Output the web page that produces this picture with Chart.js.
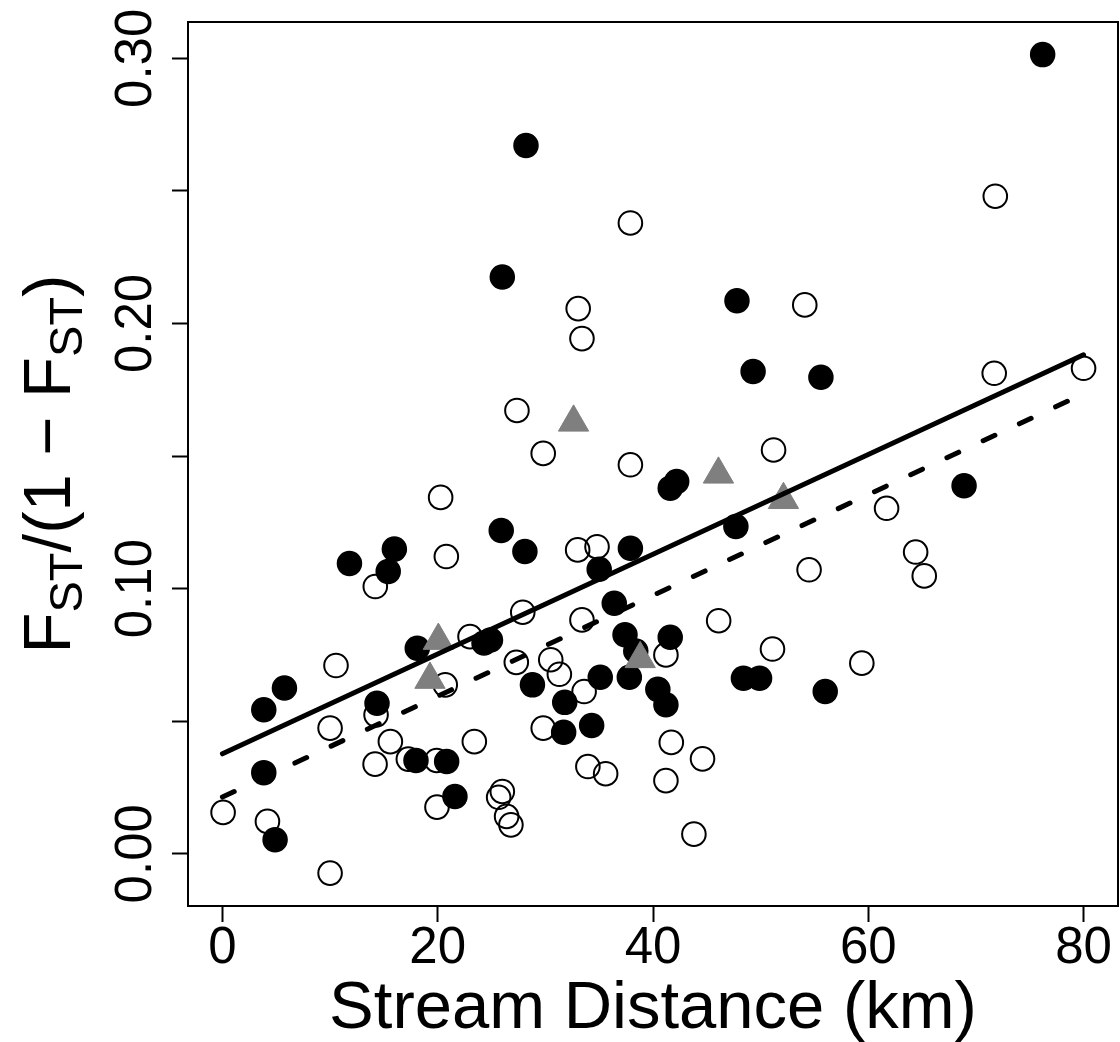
<!DOCTYPE html>
<html>
<head>
<meta charset="utf-8">
<script src="https://cdn.jsdelivr.net/npm/chart.js@4"></script>
<style>
  html, body { margin: 0; padding: 0; background: #fff; }
  canvas { display: block; }
</style>
</head>
<body>
<canvas id="fstChart" width="1120" height="1042"></canvas>
<script>
// tick values / labels
const xTicks = [0, 20, 40, 60, 80];
const xTickLabels = ["0", "20", "40", "60", "80"];
const yTicks = [0, 0.05, 0.10, 0.15, 0.20, 0.25, 0.30];
const yTickLabels = ["0.00", "", "0.10", "", "0.20", "", "0.30"];
const xTitle = "Stream Distance (km)";

// open circles
const openX = [20.27, 20.8, 14.2, 23.0, 20.7, 10.55, 10.0, 14.27, 15.6, 14.18,
  17.27, 19.9, 23.4, 0.06, 4.18, 10.0, 19.93, 26.0, 25.66, 26.4,
  26.8, 27.36, 29.8, 37.9, 51.2, 54.5, 33.0, 34.8, 27.9, 33.4,
  41.2, 46.1, 51.1, 27.3, 30.5, 31.3, 33.6, 29.8, 41.7, 44.6,
  33.95, 35.6, 41.2, 43.8, 54.1, 71.7, 80.0, 61.7, 64.4, 65.2,
  59.4, 37.9, 33.05, 33.4, 71.8];
const openY = [0.1344, 0.1121, 0.1008, 0.0819, 0.0637, 0.0710, 0.0474, 0.0524, 0.0423, 0.0338,
  0.0357, 0.0352, 0.0423, 0.0156, 0.0122, -0.0073, 0.0176, 0.0235, 0.0213, 0.0141,
  0.0109, 0.1672, 0.1510, 0.1467, 0.1523, 0.1071, 0.1146, 0.1158, 0.0911, 0.0882,
  0.0750, 0.0879, 0.0772, 0.0722, 0.0732, 0.0677, 0.0612, 0.0474, 0.0420, 0.0358,
  0.0329, 0.0302, 0.0276, 0.0074, 0.2070, 0.1812, 0.1831, 0.1303, 0.1138, 0.1048,
  0.0719, 0.2379, 0.2056, 0.1943, 0.2480];

// filled circles
const filledX = [25.9, 11.8, 15.97, 15.4, 24.3, 24.9, 18.1, 5.76, 3.84, 14.36,
  17.98, 20.83, 3.84, 4.89, 21.6, 41.6, 42.2, 47.7, 28.1, 37.9,
  35.0, 36.4, 37.4, 41.6, 38.4, 28.8, 35.1, 37.8, 31.8, 40.45,
  41.2, 48.4, 49.9, 31.7, 34.3, 55.6, 68.9, 56.0, 28.2, 26.0,
  47.8, 49.3, 76.2];
const filledY = [0.1219, 0.1095, 0.1149, 0.1065, 0.0795, 0.0806, 0.0775, 0.0625, 0.0543, 0.0568,
  0.0352, 0.0348, 0.0306, 0.0053, 0.0216, 0.1379, 0.1404, 0.1234, 0.1140, 0.1152,
  0.1073, 0.0945, 0.0826, 0.0817, 0.0765, 0.0637, 0.0666, 0.0666, 0.0571, 0.0620,
  0.0562, 0.0662, 0.0662, 0.0458, 0.0484, 0.1797, 0.1388, 0.0612, 0.2671, 0.2175,
  0.2086, 0.1819, 0.3014];

// grey triangles
const triX = [32.62, 46.08, 52.12, 20.06, 19.28, 38.81];
const triY = [0.1627, 0.1431, 0.1335, 0.0804, 0.0657, 0.0735];

// regression lines (end points)
const solidX = [0, 80];
const solidY = [0.0377, 0.1882];
const dashX = [0, 80];
const dashY = [0.0214, 0.1735];

const pts = (xs, ys) => xs.map((x, i) => ({ x: x, y: ys[i] }));

const FONT = '"Liberation Sans", Arial, Helvetica, sans-serif';

const axisDecor = {
  id: "axisDecor",
  afterDraw(chart) {
    const { ctx, chartArea: a } = chart;
    const sx = chart.scales.x, sy = chart.scales.y;
    ctx.save();
    ctx.strokeStyle = "#000";
    ctx.lineWidth = 2;
    ctx.strokeRect(a.left, a.top, a.right - a.left, a.bottom - a.top);

    ctx.fillStyle = "#000";
    ctx.textBaseline = "alphabetic";
    ctx.textAlign = "center";
    ctx.font = "51px " + FONT;
    xTicks.forEach((v, i) => {
      ctx.fillText(xTickLabels[i], sx.getPixelForValue(v), a.bottom + 57);
    });
    yTicks.forEach((v, i) => {
      if (!yTickLabels[i]) return;
      ctx.save();
      ctx.translate(a.left - 37, sy.getPixelForValue(v));
      ctx.rotate(-Math.PI / 2);
      ctx.fillText(yTickLabels[i], 0, 0);
      ctx.restore();
    });

    // x title
    ctx.font = "67px " + FONT;
    ctx.fillText(xTitle, (a.left + a.right) / 2, a.bottom + 122);

    // y title: F_ST / (1 - F_ST)
    const parts = [["F", 67, 0], ["ST", 47, 12], ["/(1 \u2212 F", 67, 0], ["ST", 47, 12], [")", 67, 0]];
    let total = 0;
    parts.forEach(p => { ctx.font = p[1] + "px " + FONT; total += ctx.measureText(p[0]).width; });
    ctx.translate(a.left - 118, (a.top + a.bottom) / 2);
    ctx.rotate(-Math.PI / 2);
    ctx.textAlign = "left";
    let pos = -total / 2;
    parts.forEach(p => {
      ctx.font = p[1] + "px " + FONT;
      ctx.fillText(p[0], pos, p[2]);
      pos += ctx.measureText(p[0]).width;
    });
    ctx.restore();
  }
};

new Chart(document.getElementById("fstChart"), {
  type: "scatter",
  data: {
    datasets: [
      {
        label: "solid fit",
        data: pts(solidX, solidY),
        showLine: true,
        borderColor: "#000",
        borderWidth: 5,
        borderCapStyle: "round",
        pointRadius: 0,
        order: 1,
      },
      {
        label: "dashed fit",
        data: pts(dashX, dashY),
        showLine: true,
        borderColor: "#000",
        borderWidth: 5,
        borderDash: [13, 27],
        borderCapStyle: "round",
        pointRadius: 0,
        order: 2,
      },
      {
        label: "triangles",
        data: pts(triX, triY),
        pointStyle: "triangle",
        pointRadius: 17.5,
        pointBorderWidth: 1,
        pointBackgroundColor: "#7f7f7f",
        pointBorderColor: "#7f7f7f",
        order: 3,
      },
      {
        label: "filled",
        data: pts(filledX, filledY),
        pointStyle: "circle",
        pointRadius: 12,
        pointBorderWidth: 1.5,
        pointBackgroundColor: "#000",
        pointBorderColor: "#000",
        order: 4,
      },
      {
        label: "open",
        data: pts(openX, openY),
        pointStyle: "circle",
        pointRadius: 11.8,
        pointBorderWidth: 2,
        pointBackgroundColor: "rgba(0,0,0,0)",
        pointBorderColor: "#000",
        order: 5,
      },
    ],
  },
  options: {
    responsive: false,
    animation: false,
    devicePixelRatio: 1,
    layout: { autoPadding: false, padding: { top: 22, right: 2, left: 0, bottom: 0 } },
    plugins: { legend: { display: false }, tooltip: { enabled: false } },
    scales: {
      x: {
        type: "linear",
        min: -3.2,
        max: 83.2,
        afterBuildTicks: (s) => { s.ticks = xTicks.map(v => ({ value: v })); },
        afterFit: (s) => { s.height = 136; },
        ticks: { display: false },
        grid: { drawOnChartArea: false, drawTicks: true, tickLength: 16, tickWidth: 2, tickColor: "#000" },
        border: { display: false },
      },
      y: {
        type: "linear",
        min: -0.0197,
        max: 0.3137,
        afterBuildTicks: (s) => { s.ticks = yTicks.map(v => ({ value: v })); },
        afterFit: (s) => { s.width = 188; },
        ticks: { display: false },
        grid: { drawOnChartArea: false, drawTicks: true, tickLength: 16, tickWidth: 2, tickColor: "#000" },
        border: { display: false },
      },
    },
  },
  plugins: [axisDecor],
});
</script>
</body>
</html>
